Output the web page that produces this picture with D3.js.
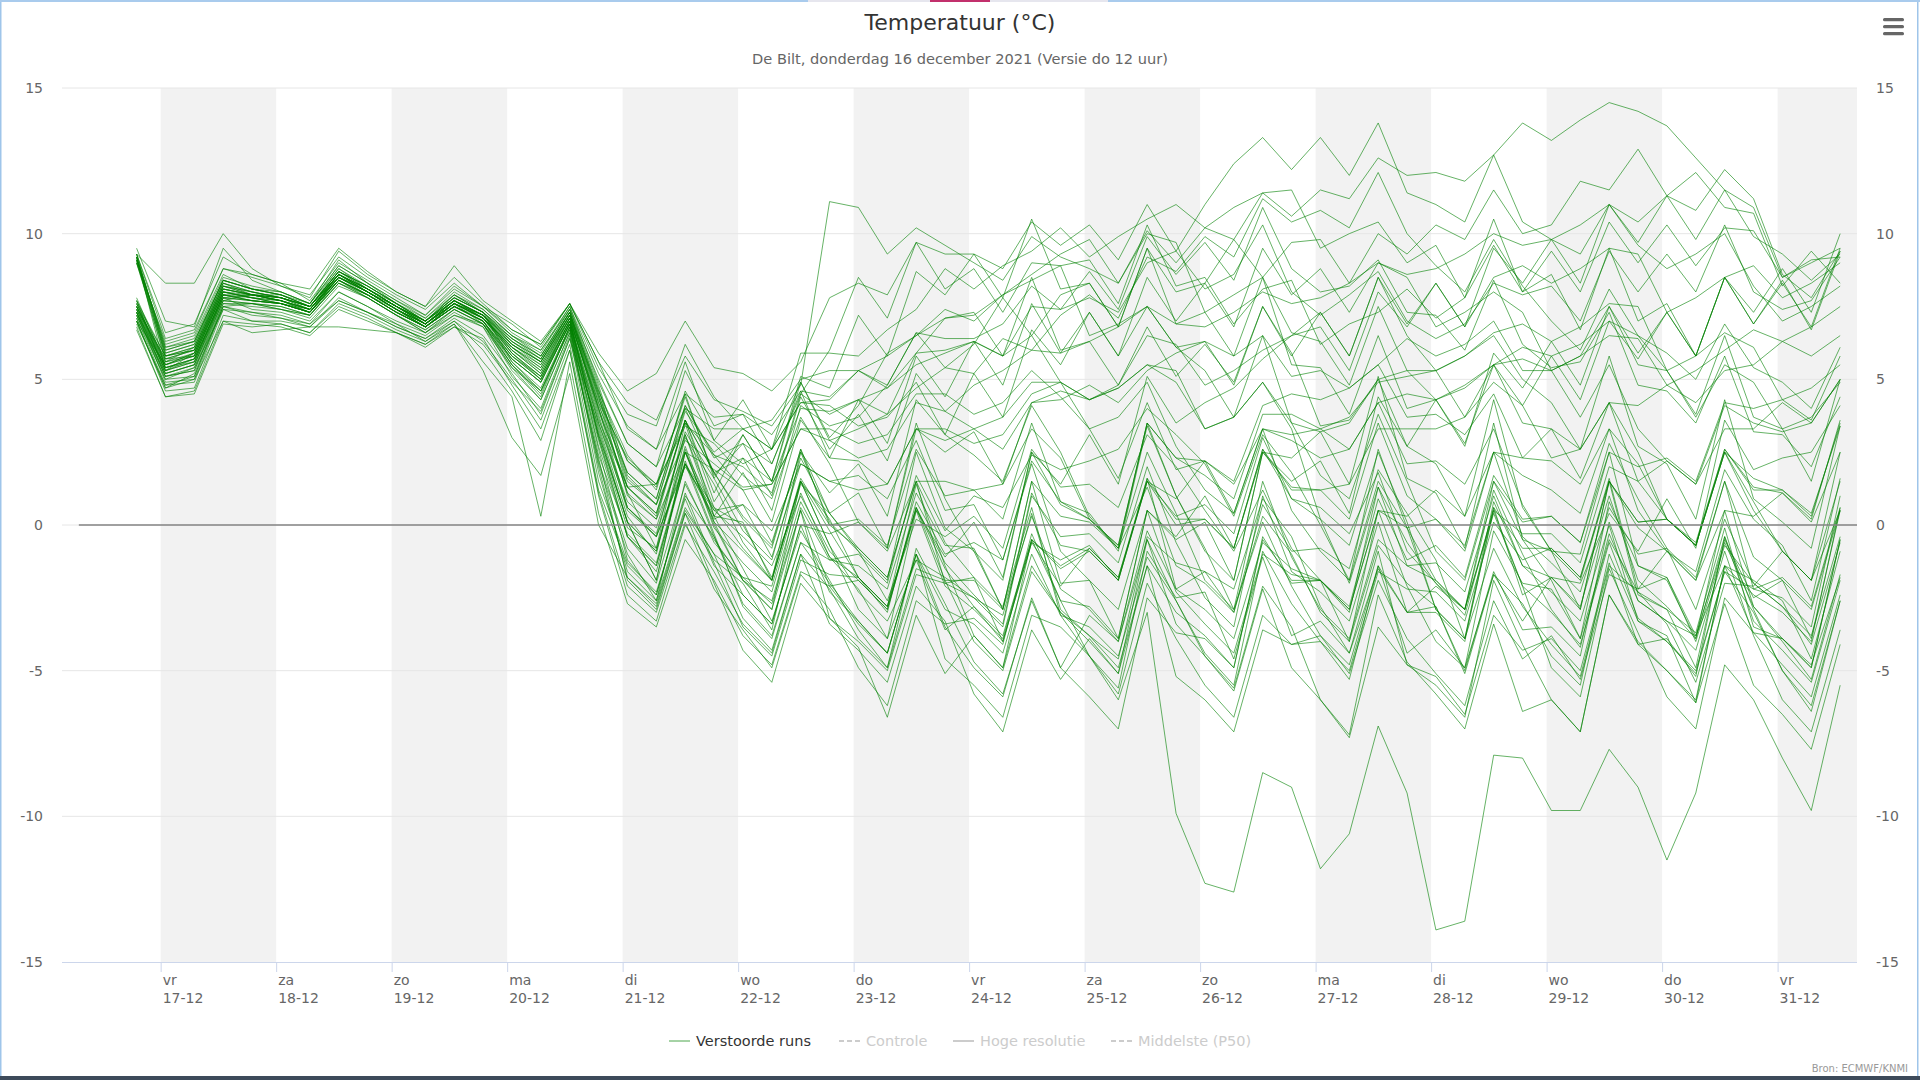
<!DOCTYPE html>
<html>
<head>
<meta charset="utf-8">
<script src="https://cdn.jsdelivr.net/npm/d3@7"></script>
<style>
  body { margin: 0; background: #fff; }
  svg { display: block; font-family: "DejaVu Sans", "Open Sans", sans-serif; }
</style>
</head>
<body>
<div id="chart"></div>
<script>
// forecast steps, hours after 17-12 00:00 (local time)
const stepHours = [-5,1,7,13,19,25,31,37,43,49,55,61,67,73,79,85,91,97,103,109,115,121,127,133,139,145,151,157,163,169,
  175,181,187,193,199,205,211,217,223,229,235,241,247,253,259,265,271,277,283,289,295,301,307,313,319,325,331,337,343,349];

const dayHours = [0,24,48,72,96,120,144,168,192,216,240,264,288,312,336];
const dayNames = ["vr","za","zo","ma","di","wo","do","vr","za","zo","ma","di","wo","do","vr"];
const dayDates = ["17-12","18-12","19-12","20-12","21-12","22-12","23-12","24-12","25-12","26-12","27-12","28-12","29-12","30-12","31-12"];
const yTicks = [-15,-10,-5,0,5,10,15];

const legendItems = ["Verstoorde runs","Controle","Hoge resolutie","Middelste (P50)"];

// 50 perturbed ensemble members (Verstoorde runs), temperature in degC, one row per member
const runs = [
 [7.2,5.0,5.1,7.6,7.5,7.4,7.1,8.2,7.8,7.2,6.6,7.4,6.9,5.4,4.6,6.7,2.2,-0.8,-2.0,1.4,-0.5,-1.9,-2.6,0.8,-1.1,-2.2,-3.9,-1.2,-1.8,-2.5,-3.1,0.4,-2.9,-3.8,-4.6,-0.4,-1.3,-1.6,-2.2,0.9,-0.4,-2.8,-4.4,-1.5,-3.0,-2.1,-2.9,1.2,-1.0,-2.9,-4.2,-0.3,-2.6,-3.3,-3.8,-1.4,-1.9,-2.6,-4.6,-0.9],
 [9.2,5.3,5.9,8.1,7.9,7.7,7.4,8.6,8.0,7.4,6.9,7.6,7.2,6.0,5.2,7.1,3.0,-0.4,-1.6,2.1,0.3,-1.5,-3.3,-0.2,-1.9,-3.6,-4.9,-0.8,-2.7,-4.7,-5.8,-2.6,-4.9,-3.1,-4.0,-0.2,-2.2,-1.6,-3.0,0.7,-0.9,-0.8,-1.5,1.9,0.4,-1.2,-3.9,-0.8,-2.8,-4.1,-5.2,-1.4,-2.3,-2.9,-3.7,-0.1,-3.5,-3.9,-4.8,-1.8],
 [6.9,4.8,4.9,7.4,7.0,6.9,6.6,7.5,7.1,6.6,6.1,6.8,6.2,4.9,3.9,6.4,3.4,0.3,-1.0,3.0,1.4,-0.6,-1.9,1.5,0.2,-1.8,-3.0,0.8,-1.0,-0.6,-1.2,2.2,0.8,0.4,-0.9,3.4,1.0,-0.8,-2.9,0.1,-2.1,-3.8,-5.1,-1.9,-3.9,-5.1,-6.2,-2.6,-4.6,-3.8,-5.3,-1.7,-2.2,-0.9,-1.6,1.9,0.2,-0.7,-2.6,1.6],
 [7.0,4.6,4.7,7.2,7.0,7.0,6.8,7.7,7.3,6.9,6.3,7.0,6.0,4.6,2.9,6.0,1.1,-2.1,-3.0,0.1,-2.2,-3.6,-4.9,-1.7,-2.9,-4.9,-6.2,-2.6,-3.4,-3.2,-4.1,-0.3,-2.6,-4.5,-5.8,-2.0,-3.9,-5.5,-6.6,-3.1,-4.1,-4.0,-5.3,-1.4,-4.4,-3.6,-4.9,-0.2,-2.0,-2.2,-3.9,0.8,-1.4,-1.8,-3.8,-0.6,-2.8,-4.0,-5.3,-1.7],
 [9.1,5.6,6.1,8.3,7.9,7.8,7.5,8.7,8.1,7.5,7.0,7.8,7.3,6.2,5.6,7.3,4.0,0.6,-0.4,3.2,1.6,-0.2,-1.2,2.3,0.4,-0.9,-2.6,0.2,-0.4,0.3,-0.8,2.6,1.3,1.4,0.6,3.1,2.0,0.5,-0.9,1.2,-0.8,-1.9,-3.0,1.3,-0.6,-2.0,-3.1,0.6,-2.4,-1.8,-2.9,1.5,0.1,0.2,-0.6,2.6,1.3,1.1,0.2,3.6],
 [7.4,5.1,5.3,7.7,7.6,7.5,7.2,8.3,7.9,7.3,6.8,7.5,7.0,5.5,4.4,6.8,1.8,-1.6,-2.6,0.6,-1.0,-3.2,-4.3,-1.0,-3.4,-4.3,-5.4,-2.1,-3.3,-5.8,-7.1,-3.6,-5.3,-3.9,-5.1,-1.4,-3.0,-3.8,-4.9,-0.4,-2.0,-1.9,-2.8,0.9,-1.2,-0.7,-1.8,1.7,0.2,0.3,-0.6,2.8,0.9,-0.8,-2.9,0.2,-2.0,-2.8,-4.1,-0.6],
 [7.1,5.0,5.4,7.7,7.6,7.5,7.2,8.4,7.8,7.2,6.7,7.4,6.9,5.7,4.9,6.9,2.6,-1.2,-2.4,1.0,-0.4,-2.7,-3.8,-0.6,-1.2,-1.4,-2.2,1.1,-0.7,-0.8,-2.9,0.3,-2.2,-2.9,-4.0,-0.5,-3.4,-4.5,-5.7,-2.2,-4.9,-6.0,-7.3,-3.5,-4.8,-5.2,-6.5,-3.1,-4.3,-3.9,-5.0,-1.3,-4.1,-3.9,-5.2,-0.4,-2.9,-5.0,-6.4,-2.6],
 [9.3,5.9,6.2,8.4,8.1,7.9,7.5,8.8,8.2,7.6,7.0,7.9,7.3,6.3,5.7,7.3,4.4,1.0,0.2,3.6,1.8,0.3,-0.7,2.6,0.4,-0.8,-1.8,1.5,-0.6,-1.8,-4.0,-0.6,-1.2,-0.7,-1.9,1.5,0.0,0.2,-0.8,2.6,0.9,0.6,-0.3,1.8,-0.9,-2.0,-2.9,0.4,-2.1,-3.0,-4.1,-0.6,-3.2,-4.0,-5.1,-1.6,-3.0,-5.0,-6.2,-2.6],
 [6.7,4.4,4.6,7.0,6.9,6.8,6.5,7.4,7.0,6.6,6.2,6.9,5.6,4.4,0.3,5.6,0.4,-2.7,-3.5,-0.5,-1.9,-3.8,-4.8,-1.6,-2.1,-1.9,-2.9,0.6,-1.3,-2.4,-3.4,1.1,-0.7,-0.9,-1.9,1.6,-2.2,-2.9,-3.9,-0.6,-1.5,-1.9,-4.0,0.5,-2.1,-4.0,-4.9,-1.7,-2.7,-4.5,-5.5,-1.0,-3.3,-3.8,-6.1,-2.7,-5.5,-6.5,-7.7,-4.1],
 [7.3,5.4,5.7,7.9,7.8,7.6,7.3,8.5,7.9,7.4,6.8,7.6,7.1,5.9,5.0,7.0,3.3,0.1,-0.9,2.7,0.1,-0.9,-1.9,1.6,0.0,0.2,-0.7,2.6,1.0,1.2,0.2,3.5,0.8,0.2,-0.8,1.3,-1.4,-2.0,-3.0,0.3,-1.0,-3.0,-4.0,-0.7,-2.0,-2.8,-5.1,-1.7,-3.3,-1.8,-2.8,0.6,-1.0,-0.8,-1.8,1.5,-2.2,-2.5,-3.5,1.0],
 [7.7,5.2,5.5,7.8,7.4,7.3,7.0,8.0,7.5,7.0,6.6,7.2,6.9,5.3,4.3,6.6,2.0,-1.8,-2.7,0.5,-1.0,-1.8,-2.7,0.5,-3.2,-4.0,-5.0,-1.7,-2.0,-1.8,-2.8,0.6,-3.1,-3.5,-4.5,-1.1,-2.6,-4.4,-5.5,-0.9,-2.7,-4.0,-5.0,-1.6,-2.2,-2.3,-3.3,0.1,-1.2,-0.8,-1.8,1.5,0.1,0.2,-0.7,2.6,1.2,1.2,0.3,3.5],
 [9.0,5.7,5.8,8.0,7.8,7.6,7.3,8.6,8.0,7.4,6.9,7.7,7.1,6.1,5.4,7.2,3.8,0.6,-0.3,3.1,0.6,-0.8,-1.9,1.5,-0.7,-2.3,-3.3,-1.2,-3.6,-2.8,-3.8,-0.5,-1.4,-0.8,-1.8,1.6,0.2,0.2,-0.8,2.6,1.2,1.2,0.2,3.5,1.0,0.2,-0.9,2.5,-0.4,-1.3,-2.3,1.0,-1.9,-2.8,-3.9,-0.4,-3.3,-4.3,-5.4,-1.9],
 [7.3,4.9,5.0,7.5,7.6,7.4,7.2,8.3,7.8,7.2,6.6,7.3,6.8,5.1,4.0,6.5,1.5,-1.3,-2.3,0.9,-1.4,-2.4,-3.4,0.0,-2.3,-3.3,-4.4,-1.0,-2.9,-3.4,-4.4,-1.0,-3.1,-4.5,-6.0,-3.0,-9.9,-12.3,-12.6,-8.5,-9.0,-11.8,-10.6,-6.9,-9.2,-13.9,-13.6,-7.9,-8.0,-9.8,-9.8,-7.7,-9.0,-11.5,-9.2,-4.8,-6.0,-8.0,-9.8,-5.5],
 [6.8,4.4,4.5,6.9,6.8,6.9,6.6,7.6,7.2,6.7,6.3,6.9,5.3,3.0,1.7,5.2,0.0,-1.8,-2.8,0.4,-2.0,-4.3,-5.4,-2.0,-3.2,-4.2,-6.6,-3.1,-5.1,-3.8,-4.9,-1.4,-3.0,-4.0,-5.1,-0.5,-2.6,-4.5,-5.6,-2.1,-3.5,-6.0,-7.2,-2.4,-4.7,-5.8,-7.0,-3.4,-6.4,-6.0,-7.1,-2.4,-4.1,-5.0,-6.1,-1.4,-3.7,-4.8,-5.9,-2.4],
 [7.5,5.5,5.8,8.0,7.8,7.6,7.4,8.5,8.0,7.4,6.8,7.6,7.1,5.8,5.1,7.0,3.0,-0.1,-0.8,2.6,-0.1,-1.3,-2.3,1.1,-1.1,-1.8,-2.8,0.6,-1.5,-2.8,-4.0,-0.6,-2.1,-0.8,-1.8,1.5,0.3,0.7,-0.3,3.0,0.9,0.2,-2.0,1.3,-1.4,-1.3,-2.3,1.0,-1.4,-2.3,-3.3,0.0,-3.3,-4.0,-5.0,-1.6,-2.2,-1.8,-2.8,0.6],
 [7.0,4.7,5.2,7.5,7.2,7.1,6.8,7.8,7.3,6.8,6.4,7.0,6.3,5.0,3.6,6.2,1.2,-1.4,-2.4,1.1,-1.3,-3.5,-4.5,-1.2,-1.7,-1.8,-2.8,0.6,-1.9,-4.0,-5.0,-1.6,-3.0,-3.8,-4.9,-1.4,-5.2,-6.0,-7.1,-3.6,-4.1,-3.8,-4.8,-1.4,-3.0,-2.8,-5.0,-1.6,-3.6,-3.5,-4.5,0.1,-2.6,-3.3,-4.3,-0.9,-3.8,-6.0,-7.1,-3.6],
 [9.2,6.1,6.4,8.5,8.2,8.0,7.6,8.9,8.3,7.7,7.1,8.0,7.4,6.5,6.0,7.4,4.8,1.7,0.7,4.0,1.8,0.2,-0.8,2.6,0.0,-0.8,-1.8,1.5,-2.0,-2.5,-3.5,1.0,-0.4,-0.3,-1.3,2.0,-0.6,-2.5,-3.5,1.0,-1.6,-2.3,-3.3,0.1,-3.0,-3.0,-4.0,0.6,-0.8,-0.8,-1.8,1.6,-2.2,-1.8,-4.0,-0.7,-2.0,-2.8,-3.8,-0.4],
 [7.2,5.1,5.3,7.6,7.6,7.4,7.2,8.3,7.8,7.2,6.7,7.4,6.9,5.5,4.5,6.8,2.4,-0.3,-1.3,2.2,-0.3,-2.8,-3.9,-0.6,-2.0,-3.3,-4.4,-1.0,-4.6,-5.5,-6.6,-3.1,-3.5,-4.5,-5.6,-0.9,-2.5,-2.3,-4.6,-1.1,-3.8,-3.3,-4.4,-0.9,-4.8,-5.5,-6.6,-1.9,-4.1,-6.0,-7.1,-2.4,-4.0,-5.0,-6.0,-1.4,-2.4,-3.0,-4.0,0.6],
 [9.5,7.0,6.8,9.5,8.4,8.0,7.6,9.1,8.3,7.7,7.2,8.2,7.5,6.9,6.1,7.6,5.6,4.2,3.6,5.8,4.3,3.9,3.4,4.8,11.1,10.9,9.3,10.2,9.6,9.0,8.4,9.9,9.2,8.8,8.3,10.1,9.0,10.2,9.8,11.4,10.6,11.5,11.2,12.6,12.0,12.1,11.8,12.7,13.8,13.2,13.9,14.5,14.2,13.7,12.6,11.5,9.9,9.3,8.4,9.3],
 [9.2,5.8,6.0,8.2,8.0,7.8,7.5,8.6,8.1,7.5,7.0,7.7,7.2,6.4,5.8,7.4,4.6,2.4,1.2,4.6,2.9,2.1,2.6,4.9,3.0,4.1,5.9,6.5,7.4,7.0,7.9,8.4,8.9,9.1,7.6,10.3,8.2,8.5,6.9,8.1,8.4,6.2,6.9,7.3,8.1,7.1,7.8,9.6,8.0,9.4,8.0,10.4,9.0,10.3,8.9,10.2,10.1,8.5,9.1,9.2],
 [9.0,6.3,6.6,8.8,8.6,8.3,7.7,9.0,8.4,7.8,7.2,8.1,7.5,6.6,6.0,7.5,5.2,3.4,2.6,5.6,2.9,4.3,2.6,5.9,5.9,5.8,6.7,7.4,8.8,8.1,8.9,9.4,10.2,9.2,9.9,10.5,11.0,10.2,10.9,11.4,11.5,9.5,10.0,10.4,9.0,9.6,7.8,10.5,8.0,8.6,6.7,9.5,7.0,7.6,5.8,8.5,6.9,8.4,6.7,9.4],
 [7.6,5.4,5.7,7.9,7.9,7.7,7.4,8.5,8.0,7.4,6.9,7.6,7.1,6.1,5.5,7.1,3.9,1.3,0.3,3.6,0.8,2.3,0.5,4.1,3.4,3.7,4.8,6.6,5.4,6.2,7.8,6.5,7.9,8.3,6.8,9.5,8.0,8.3,9.8,8.5,9.7,9.8,8.3,10.0,9.3,10.3,9.8,11.5,10.0,10.3,11.8,11.5,12.9,11.3,12.1,10.9,10.7,8.2,9.4,8.3],
 [9.1,6.2,6.5,8.6,8.1,8.0,7.6,8.9,8.3,7.6,7.1,7.9,7.4,6.5,5.9,7.5,4.9,2.8,2.0,5.3,3.4,3.8,2.1,4.5,6.0,8.5,7.1,9.7,8.1,8.8,7.3,9.0,8.9,6.5,6.9,7.5,6.1,6.3,4.8,7.5,5.8,7.3,5.8,8.5,6.9,8.3,6.8,8.5,8.9,8.3,8.8,9.5,9.3,7.3,7.8,8.5,8.9,7.8,8.3,9.0],
 [7.4,5.7,6.0,8.1,7.9,7.7,7.4,8.5,8.1,7.5,6.9,7.7,7.2,6.2,5.5,7.2,4.3,2.2,1.3,4.5,1.6,3.1,1.5,4.9,2.9,3.3,3.8,4.7,5.4,5.2,6.4,6.0,7.2,7.9,7.1,9.2,8.7,9.9,9.2,11.2,10.4,10.8,10.2,12.1,10.0,8.9,8.0,9.8,8.2,7.0,6.0,8.1,6.5,5.9,5.0,6.9,5.4,4.9,4.0,6.1],
 [7.7,5.6,5.8,8.0,7.9,7.8,7.5,8.6,8.0,7.4,6.9,7.6,7.1,6.0,5.3,7.1,4.1,1.8,0.9,4.1,2.4,2.0,1.1,4.5,3.8,4.3,4.7,5.9,7.1,7.2,7.9,8.6,9.3,9.8,8.3,10.0,9.7,7.3,7.9,8.5,6.6,6.3,4.8,7.5,5.3,4.3,4.8,5.5,5.7,5.3,5.8,7.5,5.9,7.3,5.8,8.5,6.9,8.3,6.8,9.5],
 [7.5,5.3,5.7,7.8,7.7,7.6,7.3,8.4,7.9,7.3,6.8,7.5,7.0,5.8,5.0,6.9,3.5,0.8,-0.1,3.1,0.3,1.8,0.1,3.6,2.3,4.3,2.8,5.8,4.4,6.3,4.8,7.6,5.9,7.3,5.8,8.5,7.0,8.3,6.8,9.5,7.9,8.8,7.3,9.0,8.5,6.8,7.3,8.0,7.3,5.3,5.8,6.5,6.4,4.8,5.3,6.0,6.7,6.3,6.8,7.5],
 [9.3,6.6,6.9,9.2,8.6,8.3,8.1,9.5,8.7,8.0,7.5,8.5,7.6,6.7,6.2,7.6,5.4,3.8,3.4,6.2,4.4,3.3,3.6,5.0,5.3,5.3,5.8,6.5,7.1,7.3,5.8,8.5,6.0,6.3,4.8,6.5,6.2,4.8,5.3,6.0,6.5,6.8,5.3,8.0,6.8,8.3,6.8,9.5,8.3,9.8,8.3,11.0,9.7,11.3,9.8,11.5,10.9,8.5,9.0,9.5],
 [7.0,5.5,5.9,8.0,7.8,7.7,7.3,8.5,8.0,7.4,6.8,7.5,7.1,6.0,5.2,7.0,4.2,2.3,1.4,4.4,1.7,2.8,1.0,4.4,2.6,3.8,2.2,5.2,3.9,4.8,5.3,6.0,5.9,6.3,6.8,7.5,6.9,6.8,7.3,8.0,7.6,7.8,8.3,9.0,8.6,8.8,9.3,10.0,9.6,9.8,10.3,11.0,9.6,8.8,9.3,10.0,8.2,7.0,7.5,8.2],
 [7.8,5.5,5.9,8.1,7.9,7.7,7.4,8.6,8.0,7.5,6.9,7.6,7.2,5.9,5.1,7.0,3.6,1.3,0.4,3.6,1.1,3.1,1.5,5.1,4.7,7.2,5.8,8.7,7.9,9.3,7.8,10.5,8.1,8.3,6.8,9.5,6.9,7.3,5.8,8.5,5.5,5.4,3.8,6.5,4.0,4.3,2.8,5.5,4.1,5.8,4.3,7.0,5.7,7.3,5.8,8.5,7.3,8.8,7.3,10.0],
 [9.3,8.3,8.3,10.0,8.8,8.2,7.8,9.4,8.6,8.0,7.5,8.9,7.7,7.0,6.3,7.6,5.9,4.6,5.2,7.0,5.4,5.2,4.6,5.6,7.8,8.3,7.9,9.7,9.3,9.3,8.8,10.4,9.6,10.3,9.1,11.0,9.4,8.1,8.6,10.3,8.0,7.2,7.9,8.7,7.0,6.4,6.9,8.3,7.9,8.2,7.0,9.4,8.0,9.3,8.0,10.3,8.0,7.4,7.7,9.2],
 [7.6,5.8,6.1,8.3,8.0,7.8,7.5,8.6,8.1,7.5,7.0,7.7,7.2,6.3,5.7,7.3,4.5,1.8,0.9,4.1,2.3,2.8,2.1,4.6,4.4,5.3,4.8,6.6,6.4,6.4,6.9,8.2,7.4,8.7,7.4,9.9,8.6,9.7,8.4,10.9,8.8,8.0,8.2,9.1,7.3,7.2,6.0,8.4,6.2,5.4,5.6,7.3,4.8,4.6,3.5,5.8,3.2,3.1,2.0,4.4],
 [7.5,5.6,5.9,8.1,7.9,7.7,7.4,8.5,8.0,7.4,6.9,7.6,7.1,6.1,5.4,7.1,4.0,1.3,0.4,3.6,1.8,2.3,1.5,4.0,3.9,4.3,3.8,5.9,6.0,6.3,5.8,7.5,7.4,7.8,7.3,9.0,9.4,11.0,12.4,13.3,12.2,13.3,12.0,13.8,11.4,11.0,10.4,12.7,10.4,9.8,9.3,11.0,10.4,11.3,10.8,12.2,11.2,8.6,7.8,9.4],
 [7.3,5.1,5.4,7.4,7.3,7.1,6.9,8.0,7.5,6.9,6.5,7.2,6.8,5.4,4.3,6.6,2.1,-1.0,-2.6,1.5,-0.6,-1.8,-2.1,1.4,0.4,1.1,-0.8,3.3,2.5,3.2,1.4,4.2,4.6,4.3,4.8,6.8,5.1,6.2,4.9,7.5,5.9,3.4,3.6,5.0,2.7,2.1,0.3,4.3,0.6,-0.9,-1.0,2.5,-1.4,-1.9,-3.9,0.5,-2.8,-3.9,-4.9,-0.5],
 [7.4,5.4,5.6,7.9,7.7,7.6,7.3,8.4,7.9,7.3,6.8,7.5,7.0,5.6,4.7,6.8,3.1,0.1,-1.9,2.5,0.1,-1.9,-2.9,1.5,-0.7,-2.9,-3.9,0.5,-1.1,0.1,-1.8,2.5,1.4,3.1,1.4,5.1,3.5,4.2,4.7,5.7,6.5,7.3,5.8,8.5,6.5,5.3,5.8,6.5,5.0,4.2,2.6,5.8,2.7,2.1,0.2,4.3,0.9,0.1,-0.8,3.4],
 [9.1,6.0,6.3,8.4,8.1,7.9,7.5,8.7,8.2,7.6,7.0,7.8,7.3,6.4,5.8,7.3,4.7,1.3,1.4,3.5,2.4,1.2,-0.6,2.5,0.1,-0.9,-1.9,2.5,-0.1,-0.9,-2.9,1.5,-2.0,-1.9,-3.9,0.5,-0.5,0.1,-1.9,2.5,1.5,2.2,0.4,4.4,2.7,4.3,2.7,5.9,4.7,6.3,4.8,7.5,5.5,5.3,3.8,6.5,3.7,3.3,1.5,5.0],
 [7.7,5.8,6.0,8.2,7.9,7.8,7.4,8.6,8.1,7.5,6.9,7.7,7.2,6.1,5.3,7.1,4.0,1.1,-0.8,3.5,0.3,0.1,-1.9,2.5,1.1,2.1,0.3,4.3,3.1,5.2,3.7,6.7,5.5,7.3,5.8,7.5,6.1,5.3,3.7,6.5,3.5,3.2,1.4,5.1,1.6,1.1,-0.8,3.5,-0.5,-0.9,-2.9,1.5,-2.4,-2.9,-4.9,-0.5,-2.5,-1.9,-3.9,0.5],
 [7.1,4.8,5.1,7.5,7.3,7.2,6.9,7.7,7.3,6.8,6.4,7.1,6.5,5.2,3.8,6.4,2.3,-1.9,-2.9,0.4,-1.2,-2.0,-3.6,0.6,-1.2,-1.0,-2.0,1.7,-0.2,1.0,0.6,2.4,1.9,2.2,2.6,4.0,3.1,2.1,0.3,3.1,1.8,0.0,-1.9,2.6,-0.1,-2.9,-3.9,0.8,-1.4,-1.8,-2.0,0.4,-0.9,0.9,-0.8,3.6,1.9,2.3,2.5,4.1],
 [9.2,6.1,6.3,8.4,8.1,7.9,7.5,8.7,8.1,7.6,7.0,7.8,7.3,6.5,5.8,7.4,5.0,2.8,2.0,4.0,3.3,3.3,2.6,4.2,4.1,3.4,3.7,4.9,3.1,2.4,1.5,4.1,2.5,0.3,-0.8,2.5,0.4,-1.9,-2.9,1.5,-1.1,-2.9,-3.9,-0.5,-1.4,-1.9,-2.9,1.5,0.1,0.3,-0.6,2.5,2.0,2.3,1.5,4.2,4.0,4.3,3.6,5.8],
 [7.6,5.5,5.8,8.0,7.8,7.7,7.3,8.5,8.0,7.4,6.8,7.6,7.1,5.9,5.1,7.0,3.7,0.5,-0.4,2.1,0.6,0.0,-1.8,1.5,-0.2,-1.8,-2.8,1.4,-1.4,-3.8,-4.9,-0.5,-2.6,-2.8,-3.9,0.5,-0.4,1.0,-0.8,2.5,2.3,3.2,3.5,5.0,5.3,5.3,5.8,6.6,6.9,6.3,6.8,7.6,7.5,5.3,5.8,6.6,6.1,4.3,4.7,5.5],
 [9.0,5.9,6.2,8.3,8.0,7.8,7.5,8.6,8.1,7.5,7.0,7.7,7.2,6.3,5.6,7.2,4.4,1.5,0.7,2.9,2.1,1.3,1.4,3.3,2.9,2.3,2.6,4.2,3.9,3.3,3.7,4.9,4.9,4.3,4.7,5.5,5.3,3.3,3.7,4.9,3.3,0.2,-0.7,2.5,0.1,-2.9,-3.9,0.5,-2.1,-4.9,-5.9,-1.5,-3.7,-5.9,-7.0,-2.5,-3.7,-3.9,-4.9,-0.5],
 [7.2,5.2,5.5,7.7,7.9,7.9,7.6,8.8,8.1,7.5,7.0,7.9,7.3,5.6,4.6,6.8,2.7,-0.4,-1.4,2.1,-0.4,-2.4,-3.4,0.0,-0.3,0.1,-0.9,1.5,1.5,1.2,1.4,3.3,2.3,0.2,-0.7,3.5,1.0,-0.9,-1.9,2.5,1.3,1.2,1.4,3.3,3.3,3.3,3.7,4.9,4.1,2.3,2.6,4.2,2.5,0.2,-0.7,2.5,0.8,-0.9,-1.9,2.5],
 [7.5,5.7,6.0,8.2,7.9,7.7,7.4,8.5,8.0,7.5,6.9,7.7,7.1,6.2,5.6,7.2,4.2,1.1,0.2,2.5,1.9,1.2,1.4,3.3,3.3,2.8,3.1,4.5,4.5,3.8,4.2,5.3,4.4,3.3,1.6,4.2,1.9,2.2,0.4,3.3,2.9,2.3,2.6,4.2,4.5,4.3,4.7,5.5,6.1,5.8,6.2,7.0,6.5,5.3,3.7,5.5,4.9,3.3,3.7,4.9],
 [7.3,5.3,5.6,7.8,7.7,7.6,7.3,8.4,7.9,7.3,6.8,7.5,7.0,5.7,4.9,6.9,3.2,0.1,-1.9,2.5,0.5,0.7,-1.1,2.1,1.5,1.2,1.4,3.3,3.3,2.8,3.1,4.5,4.9,4.3,4.7,5.5,4.9,3.3,3.7,4.9,3.5,1.7,0.9,3.8,1.5,-0.9,-1.9,1.5,-0.5,-1.9,-3.9,-0.5,-2.3,-3.4,-5.4,-2.0,-2.1,-0.9,-1.9,0.5],
 [7.0,4.7,5.0,7.0,6.6,6.7,6.8,6.8,6.7,6.6,6.2,6.8,6.4,4.8,3.3,6.0,1.0,-2.4,-3.3,0.0,-1.6,-3.4,-4.4,-1.0,-2.2,-3.9,-4.9,-1.5,-1.9,-1.9,-2.9,1.5,0.3,0.1,-0.8,3.5,2.3,2.2,1.5,4.1,4.5,4.3,4.7,5.5,6.4,5.8,6.2,7.0,5.3,5.3,3.7,5.5,3.3,2.2,1.4,4.1,3.5,3.2,3.5,5.0],
 [9.1,5.8,6.1,8.2,8.0,7.8,7.4,8.6,8.1,7.5,6.9,7.7,7.2,6.2,5.6,7.2,4.6,2.2,1.4,3.4,2.8,1.7,0.9,3.7,2.1,0.1,-0.8,3.5,0.9,-0.9,-1.9,2.5,0.7,0.2,-0.7,3.5,2.3,1.7,0.9,3.8,3.8,3.3,3.7,4.9,5.1,5.3,3.7,5.5,3.5,3.3,1.6,4.2,1.5,0.2,-0.7,2.5,1.6,1.2,0.4,3.4],
 [7.5,5.4,5.7,7.9,7.7,7.6,7.3,8.4,7.9,7.3,6.8,7.5,7.0,5.8,5.0,6.9,3.5,0.6,-0.4,2.0,0.5,-0.4,-1.4,1.0,-0.9,-1.9,-2.9,0.5,-2.1,-2.9,-3.9,-0.5,-1.5,-0.9,-1.9,1.5,0.9,2.2,1.4,3.3,3.1,3.3,2.6,4.2,2.1,2.2,1.4,3.3,0.7,-0.9,-1.9,1.5,-0.1,-0.9,-1.9,0.5,0.3,1.1,0.1,2.5],
 [9.2,6.0,6.3,8.4,8.1,7.9,7.5,8.7,8.2,7.6,7.0,7.8,7.3,6.4,5.7,7.3,4.5,1.6,0.7,3.9,2.5,3.3,2.6,4.2,4.3,5.3,4.7,5.5,5.9,6.3,5.8,6.5,4.9,3.3,3.7,4.9,2.7,1.2,0.4,3.3,0.5,-0.9,-1.9,1.5,-0.1,-1.9,-2.9,0.5,-0.3,-0.3,-1.3,2.0,1.5,2.2,1.4,3.3,3.3,4.2,3.5,5.0],
 [7.3,5.2,5.5,7.8,7.9,7.8,7.5,8.7,8.2,7.6,6.9,7.6,6.9,5.5,4.6,6.7,2.9,-0.4,-1.4,2.1,0.2,0.7,-0.2,2.1,1.5,1.7,0.9,2.9,0.5,0.7,-1.2,2.1,-0.9,-1.9,-2.9,0.5,-2.3,-3.4,-4.4,-1.0,-1.7,-1.9,-2.9,0.5,0.3,1.2,0.3,2.5,2.3,3.3,2.6,4.2,4.1,4.8,4.2,5.3,5.5,6.3,5.8,6.5],
 [9.3,6.4,6.7,8.8,8.5,8.2,7.9,9.2,8.5,7.9,7.4,8.3,7.5,6.7,6.2,7.6,5.6,3.3,2.6,4.5,3.7,3.8,3.1,4.6,2.3,2.2,1.4,3.3,2.9,3.3,2.6,4.2,4.3,4.8,4.2,5.3,5.9,6.3,5.8,6.5,5.1,5.3,4.7,5.5,3.7,3.8,3.1,4.5,2.3,2.2,1.4,3.3,0.5,-0.9,-1.9,1.5,-1.1,-1.9,-2.9,0.5],
 [7.4,5.3,5.6,7.9,7.7,7.6,7.3,8.4,7.9,7.3,6.8,7.5,7.0,5.7,4.9,6.9,3.1,0.1,-0.9,2.5,0.0,-1.9,-2.9,0.5,-2.1,-3.4,-4.4,-1.0,-3.5,-4.9,-5.9,-2.5,-4.9,-5.9,-7.0,-2.5,-3.7,-3.9,-4.9,-0.5,-1.9,-1.9,-2.9,0.5,-0.1,0.2,-0.7,2.5,1.7,1.2,0.4,3.3,2.1,0.2,-0.7,2.5,0.5,-0.9,-1.9,1.5]
];

runs.forEach((r, k) => {
  if (r.length !== stepHours.length) throw new Error("run " + k + " has " + r.length + " values");
});

const W = 1920, H = 1080;
const plot = { left: 62, right: 1857, top: 88, bottom: 962 };

const svg = d3.select("#chart").append("svg")
  .attr("width", W)
  .attr("height", H);

svg.append("rect").attr("width", W).attr("height", H).attr("fill", "#fff");

const x = d3.scaleLinear().domain([-20.5, 352.5]).range([plot.left, plot.right]);
const y = d3.scaleLinear().domain([-15, 15]).range([plot.bottom, plot.top]);

// alternating day bands
svg.append("g").selectAll("rect")
  .data(dayHours.filter((d, i) => i % 2 === 0))
  .join("rect")
  .attr("x", d => x(d))
  .attr("y", plot.top)
  .attr("width", d => Math.min(x(d + 24), plot.right) - x(d))
  .attr("height", plot.bottom - plot.top)
  .attr("fill", "#f2f2f2");

// horizontal grid
svg.append("g").selectAll("line")
  .data(yTicks.filter(d => d > -15))
  .join("line")
  .attr("x1", plot.left).attr("x2", plot.right)
  .attr("y1", d => y(d)).attr("y2", d => y(d))
  .attr("stroke", "#e6e6e6").attr("stroke-width", 1);

// y labels on both sides
const yLab = svg.append("g").attr("font-size", 14).attr("fill", "#666");
yLab.selectAll(".yl")
  .data(yTicks).join("text")
  .attr("x", 43).attr("y", d => y(d) + 5)
  .attr("text-anchor", "end")
  .text(d => d);
yLab.selectAll(".yr")
  .data(yTicks).join("text")
  .attr("x", 1876).attr("y", d => y(d) + 5)
  .attr("text-anchor", "start")
  .text(d => d);

// x axis
const xAxis = svg.append("g").attr("transform", `translate(0,${plot.bottom})`)
  .call(d3.axisBottom(x).tickValues(dayHours).tickSize(10).tickFormat(""));
xAxis.select(".domain").attr("d", `M${plot.left},0.5H${plot.right}`).attr("stroke", "#ccd6eb");
xAxis.selectAll(".tick line").attr("stroke", "#ccd6eb");

const xLab = svg.append("g").attr("font-size", 14).attr("fill", "#666");
xLab.selectAll(".dn").data(dayHours).join("text")
  .attr("x", d => x(d) + 2).attr("y", 985)
  .text((d, i) => dayNames[i]);
xLab.selectAll(".dd").data(dayHours).join("text")
  .attr("x", d => x(d) + 2).attr("y", 1003)
  .text((d, i) => dayDates[i]);

// ensemble members
svg.append("defs").append("clipPath").attr("id", "clip")
  .append("rect")
  .attr("x", plot.left).attr("y", plot.top)
  .attr("width", plot.right - plot.left).attr("height", plot.bottom - plot.top);

const line = d3.line()
  .x((d, i) => x(stepHours[i]))
  .y(d => y(d));

svg.append("g").attr("clip-path", "url(#clip)")
  .selectAll("path")
  .data(runs).join("path")
  .attr("d", line)
  .attr("fill", "none")
  .attr("stroke", "#008000")
  .attr("stroke-opacity", 0.6)
  .attr("stroke-width", 1);

// zero line
svg.append("line")
  .attr("x1", x(-17)).attr("x2", plot.right)
  .attr("y1", y(0)).attr("y2", y(0))
  .attr("stroke", "#858585").attr("stroke-width", 1.5);

// titles
svg.append("text").attr("x", W / 2).attr("y", 30)
  .attr("text-anchor", "middle").attr("font-size", 22).attr("fill", "#333")
  .text("Temperatuur (°C)");
svg.append("text").attr("x", W / 2).attr("y", 64)
  .attr("text-anchor", "middle").attr("font-size", 14.6).attr("fill", "#666")
  .text("De Bilt, donderdag 16 december 2021 (Versie do 12 uur)");

// menu button
svg.append("g").selectAll("rect").data([18, 25, 32]).join("rect")
  .attr("x", 1883).attr("y", d => d).attr("width", 21).attr("height", 3.2).attr("rx", 1.5)
  .attr("fill", "#666");

// legend
const legendX = [669, 839, 953, 1111];
const legend = svg.append("g").attr("font-size", 14.5);
legendItems.forEach((name, i) => {
  const g = legend.append("g").attr("transform", `translate(${legendX[i]},1041)`);
  g.append("line").attr("x1", 0).attr("x2", 21).attr("y1", 0).attr("y2", 0)
    .attr("stroke", i === 0 ? "#008000" : "#cccccc")
    .attr("stroke-opacity", i === 0 ? 0.7 : 1)
    .attr("stroke-width", i === 0 ? 1 : 2)
    .attr("stroke-dasharray", (i === 1 || i === 3) ? "5,3" : null);
  g.append("text").attr("x", 27).attr("y", 5)
    .attr("fill", i === 0 ? "#333" : "#cccccc")
    .text(name);
});

// credits
svg.append("text").attr("x", 1908).attr("y", 1072)
  .attr("text-anchor", "end").attr("font-size", 10).attr("fill", "#999")
  .text("Bron: ECMWF/KNMI");

// page frame
svg.append("rect").attr("x", 0).attr("y", 0).attr("width", 1.5).attr("height", H).attr("fill", "#9fc5ea");
svg.append("rect").attr("x", 1917).attr("y", 0).attr("width", 1.5).attr("height", H).attr("fill", "#9fc5ea");
svg.append("rect").attr("x", 0).attr("y", 0).attr("width", W).attr("height", 2).attr("fill", "#a9cbed");
svg.append("rect").attr("x", 808).attr("y", 0).attr("width", 300).attr("height", 2).attr("fill", "#e6e6ee");
svg.append("rect").attr("x", 930).attr("y", 0).attr("width", 60).attr("height", 2).attr("fill", "#c2306c");
svg.append("rect").attr("x", 0).attr("y", 1076).attr("width", W).attr("height", 4).attr("fill", "#3d4a5a");
</script>
</body>
</html>
